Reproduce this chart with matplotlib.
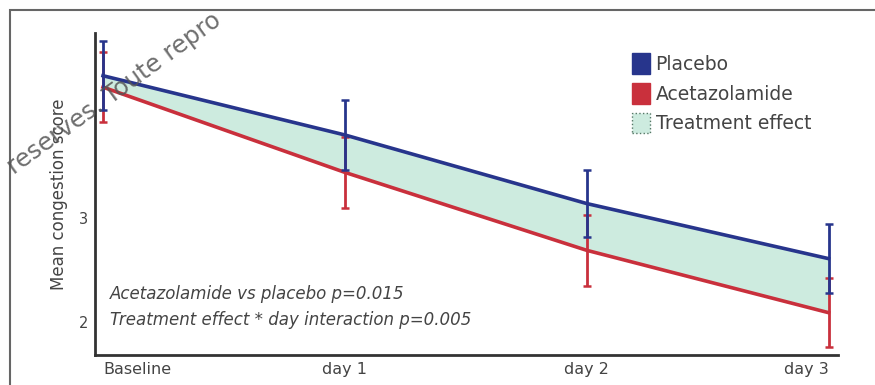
import numpy as np
import matplotlib
matplotlib.use('Agg')
import matplotlib.pyplot as plt
from matplotlib.patches import Patch, Rectangle

# -------------------------------
# data
# -------------------------------
days = ['Baseline', 'day 1', 'day 2', 'day 3']
placebo = [4.37, 3.80, 3.14, 2.61]
placebo_err = [0.33, 0.34, 0.32, 0.33]
acetazolamide = [4.26, 3.44, 2.69, 2.09]
acetazolamide_err = [0.34, 0.34, 0.34, 0.33]
yticks = [2, 3]
notes = ['Acetazolamide vs placebo p=0.015',
         'Treatment effect * day interaction p=0.005']

BLUE = '#27358c'
RED = '#c9303c'
MINT = '#cdebdf'
GREY = '#444444'

x = np.arange(len(days))

fig = plt.figure(figsize=(8.75, 3.85), dpi=100)
ax = fig.add_axes([0.1086, 0.078, 0.8494, 0.836])

# shaded treatment effect
ax.fill_between(x, acetazolamide, placebo, color=MINT, lw=0, zorder=1)

ax.errorbar(x, placebo, yerr=placebo_err, color=BLUE, lw=2.6,
            elinewidth=2, capsize=3, capthick=1.8, zorder=3)
ax.errorbar(x, acetazolamide, yerr=acetazolamide_err, color=RED, lw=2.6,
            elinewidth=2, capsize=3, capthick=1.8, zorder=2)

ax.set_xlim(-0.033, 3.04)
ax.set_ylim(1.683, 4.78)
ax.set_yticks(yticks)
ax.set_yticklabels([str(t) for t in yticks], color=GREY, fontsize=10.5)
ax.set_xticks(x)
ax.set_xticklabels(days, color=GREY, fontsize=11.5)
ax.get_xticklabels()[0].set_ha('left')
ax.get_xticklabels()[-1].set_ha('right')
ax.tick_params(length=0, pad=5)
ax.set_ylabel('Mean congestion score', color=GREY, fontsize=12, labelpad=8)

for side in ['top', 'right']:
    ax.spines[side].set_visible(False)
for side in ['left', 'bottom']:
    ax.spines[side].set_color('#333333')
    ax.spines[side].set_linewidth(2)

# p-value notes
ax.text(0.02, 0.19, notes[0], transform=ax.transAxes, style='italic',
        color=GREY, fontsize=12, va='center')
ax.text(0.02, 0.108, notes[1], transform=ax.transAxes, style='italic',
        color=GREY, fontsize=12, va='center')

# legend
handles = [Patch(facecolor=BLUE, edgecolor=BLUE),
           Patch(facecolor=RED, edgecolor=RED),
           Patch(facecolor=MINT, edgecolor='#557766', linestyle=':', lw=1)]
leg = ax.legend(handles, ['Placebo', 'Acetazolamide', 'Treatment effect'],
                loc='upper left', bbox_to_anchor=(0.70, 0.99), frameon=False,
                fontsize=13.5, handlelength=0.95, handleheight=1.3,
                handletextpad=0.3, labelspacing=0.5)
for t in leg.get_texts():
    t.set_color(GREY)

# outer frame of the figure
fig.patches.append(Rectangle((0.011, -0.2), 1.2, 1.174, transform=fig.transFigure,
                             fill=False, edgecolor='#666666', lw=1.5))

# watermark
fig.text(0.003, 0.535, 'reserves. Toute repro', rotation=36, fontsize=17.5,
         color='#555555', alpha=0.85, ha='left', va='bottom')

fig.savefig('out.png', dpi=100)
